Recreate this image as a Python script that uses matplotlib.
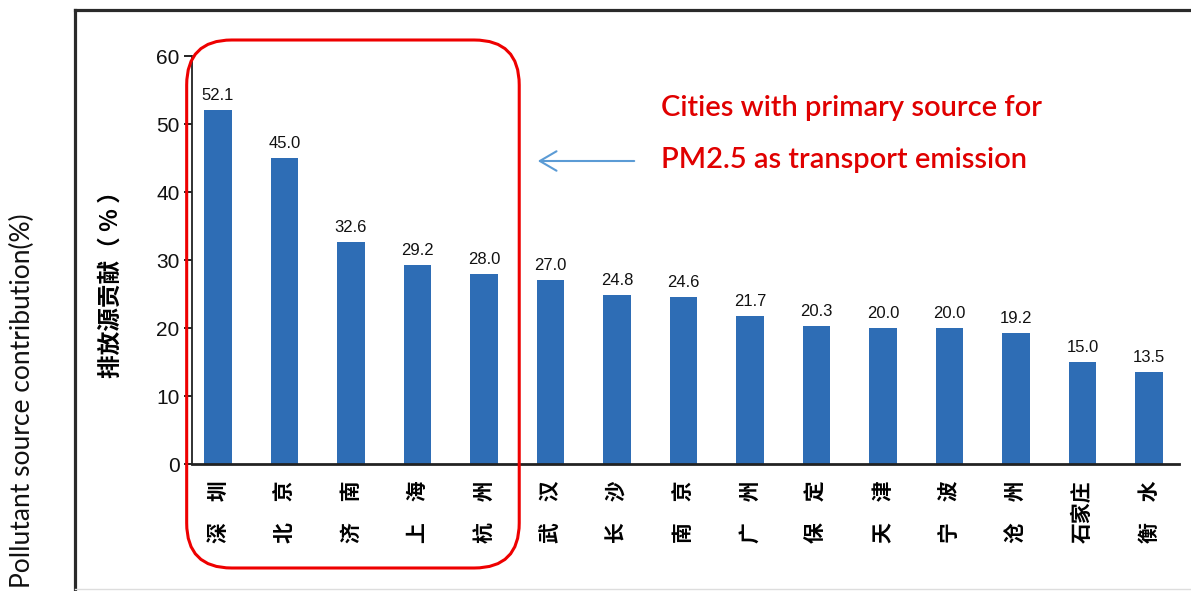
import matplotlib
matplotlib.use('Agg')
import matplotlib.pyplot as plt
from matplotlib.patches import FancyBboxPatch
from matplotlib.lines import Line2D

# data
cities = ['深圳', '北京', '济南', '上海', '杭州', '武汉', '长沙', '南京',
          '广州', '保定', '天津', '宁波', '沧州', '石家庄', '衡水']
contribution = [52.1, 45.0, 32.6, 29.2, 28.0, 27.0, 24.8, 24.6,
                21.7, 20.3, 20.0, 20.0, 19.2, 15.0, 13.5]
yticks = [0, 10, 20, 30, 40, 50, 60]
n_highlight = 5  # cities inside the red box

plt.rcParams['font.family'] = ['Liberation Sans', 'Noto Sans CJK SC', 'DejaVu Sans']

W, H = 1191, 591
fig = plt.figure(figsize=(W / 100, H / 100), dpi=100)
ax = fig.add_axes([192 / W, 1 - 464 / H, (1179 - 192) / W, (464 - 56) / H])

x = list(range(len(cities)))
bars = ax.bar(x, contribution, width=0.41, color='#2e6db5')
ax.bar_label(bars, labels=['%.1f' % v for v in contribution], padding=5, fontsize=12,
             color='#111111')

ax.set_xlim(-0.39, len(cities) - 0.55)
ax.set_ylim(0, 60)
ax.set_yticks(yticks)
ax.tick_params(axis='y', direction='out', length=6, width=1.2, labelsize=15, pad=3,
               labelcolor='#111111')
ax.tick_params(axis='x', length=0, pad=12)
# two-character names are spread to the width of three characters
labels = ['\u3000'.join(c) if len(c) == 2 else c for c in cities]
ax.set_xticks(x)
ax.set_xticklabels(labels, rotation=90, fontsize=15, fontweight='bold',
                   family=['Noto Sans CJK SC'])
for s in ['top', 'right']:
    ax.spines[s].set_visible(False)
ax.spines['left'].set_linewidth(1.3)
ax.spines['bottom'].set_linewidth(2)
ax.spines['left'].set_color('#222222')
ax.spines['bottom'].set_color('#222222')

ax.set_ylabel('排放源贡献（ % ）', fontsize=17, fontweight='bold',
              family=['Noto Sans CJK SC'])
ax.yaxis.set_label_coords(-0.070, 0.455)

# outer frame of the scanned figure
fig.add_artist(Line2D([75 / W, 75 / W], [0, 1 - 10 / H], transform=fig.transFigure,
                      color='#2a2a2a', lw=2.3))
fig.add_artist(Line2D([75 / W, 1], [1 - 10 / H, 1 - 10 / H], transform=fig.transFigure,
                      color='#2a2a2a', lw=2.3))
fig.add_artist(Line2D([75 / W, 1], [1 - 589 / H, 1 - 589 / H], transform=fig.transFigure,
                      color='#dddddd', lw=1))

fig.text(22 / W, 3 / H, 'Pollutant source contribution(%)', rotation=90,
         ha='center', va='bottom', fontsize=19, family=['Lato'], color='#111111')

# red rounded box around the first cities
x0 = ax.transData.transform((-0.47, 0))[0] / 100
x1 = ax.transData.transform((n_highlight - 1 + 0.53, 0))[0] / 100
y0 = (H - 568) / 100
y1 = (H - 40) / 100
box = FancyBboxPatch((x0, y0), x1 - x0, y1 - y0,
                     boxstyle='round,pad=0,rounding_size=0.45',
                     transform=fig.dpi_scale_trans, fill=False,
                     edgecolor='#ee0000', lw=2.2, clip_on=False)
fig.add_artist(box)

ax.annotate('', xy=(535 / W, 1 - 161 / H), xytext=(637 / W, 1 - 161 / H),
            xycoords='figure fraction', textcoords='figure fraction',
            arrowprops=dict(arrowstyle='->,head_length=0.6,head_width=0.35',
                            color='#5b9bd5', lw=1.5, mutation_scale=20))

fig.text(661 / W, 1 - 108 / H, 'Cities with primary source for', color='#e00000',
         fontsize=21, family=['Lato'], fontweight='semibold', va='center', ha='left')
fig.text(661 / W, 1 - 160 / H, 'PM2.5 as transport emission', color='#e00000',
         fontsize=21, family=['Lato'], fontweight='semibold', va='center', ha='left')

fig.savefig('out.png', dpi=100, facecolor='white')
